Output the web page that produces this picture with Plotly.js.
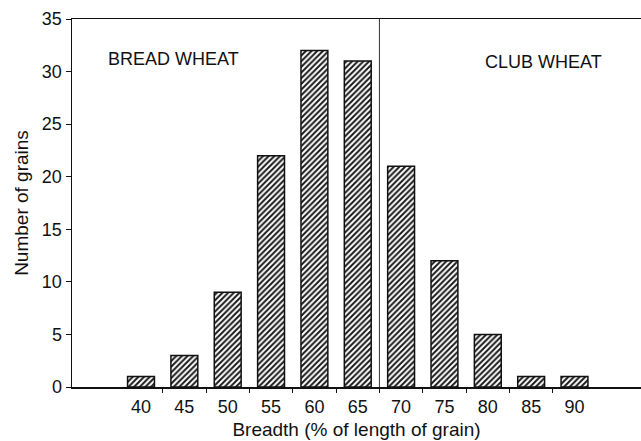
<!DOCTYPE html>
<html>
<head>
<meta charset="utf-8">
<script src="https://cdn.plot.ly/plotly-3.0.1.min.js"></script>
<style>html,body{margin:0;padding:0;background:#fff;}#chart{width:641px;height:441px;}</style>
</head>
<body>
<div id="chart"></div>
<script>
// Data
var breadth = [40, 45, 50, 55, 60, 65, 70, 75, 80, 85, 90];
var grains  = [1, 3, 9, 22, 32, 31, 21, 12, 5, 1, 1];
var tickLabels = ["40", "45", "50", "55", "60", "65", "70", "75", "80", "85", "90"];
var classBoundaries = [42.5, 47.5, 52.5, 57.5, 62.5, 67.5, 72.5, 77.5, 82.5, 87.5];
var divider = [67.5];
var groupLabels = ["BREAD WHEAT", "CLUB WHEAT"];
var groupLabelX = [43.7, 86.4];
var groupLabelY = [31.2, 30.9];
var yTicks = [0, 5, 10, 15, 20, 25, 30, 35];

var FONT = "Liberation Sans, Arial, Helvetica, sans-serif";
var INK = "#111";

var traces = [
  {
    type: "bar",
    x: breadth,
    y: grains,
    width: 3.1,
    marker: {
      color: "#fff",
      line: {color: INK, width: 1.5},
      pattern: {shape: "/", fgcolor: "#1a1a1a", bgcolor: "#fff", size: 4, solidity: 0.5}
    },
    hoverinfo: "x+y",
    xaxis: "x",
    yaxis: "y"
  },
  {
    type: "scatter",
    mode: "lines",
    x: [divider[0], divider[0]],
    y: [0, 35],
    line: {color: "#333", width: 1},
    hoverinfo: "skip",
    xaxis: "x",
    yaxis: "y"
  },
  {
    type: "scatter",
    mode: "markers",
    x: classBoundaries,
    y: classBoundaries.map(function(){return 0;}),
    marker: {opacity: 0},
    hoverinfo: "skip",
    xaxis: "x2",
    yaxis: "y"
  }
];

var xr = [32.04, 97.67];

var layout = {
  width: 641,
  height: 441,
  margin: {l: 72, r: 0, t: 19, b: 54},
  paper_bgcolor: "#fff",
  plot_bgcolor: "#fff",
  showlegend: false,
  font: {family: FONT, color: INK, size: 16},
  xaxis: {
    range: xr,
    tickmode: "array",
    tickvals: breadth,
    ticktext: tickLabels,
    ticks: "outside",
    ticklen: 3,
    tickcolor: "rgba(0,0,0,0)",
    tickfont: {size: 18, family: FONT, color: INK},
    showgrid: false,
    zeroline: false,
    showline: true,
    linecolor: INK,
    linewidth: 1.5,
    mirror: true,
    title: {text: "Breadth (% of length of grain)", font: {size: 19, family: FONT, color: INK}, standoff: 6}
  },
  xaxis2: {
    range: xr,
    overlaying: "x",
    side: "bottom",
    tickmode: "array",
    tickvals: classBoundaries,
    showticklabels: false,
    ticks: "outside",
    ticklen: 5,
    tickwidth: 1,
    tickcolor: INK,
    showgrid: false,
    zeroline: false,
    showline: false
  },
  yaxis: {
    range: [0, 35],
    tickmode: "array",
    tickvals: yTicks,
    ticks: "outside",
    ticklen: 5,
    tickwidth: 1,
    tickcolor: INK,
    tickfont: {size: 18, family: FONT, color: INK},
    showgrid: false,
    zeroline: false,
    showline: true,
    linecolor: INK,
    linewidth: 1.5,
    mirror: false,
    title: {text: "Number of grains", font: {size: 19, family: FONT, color: INK}, standoff: 8}
  },
  annotations: groupLabels.map(function(t, i){
    return {
      text: t, x: groupLabelX[i], y: groupLabelY[i], xref: "x", yref: "y",
      showarrow: false, font: {size: 18, family: FONT, color: INK}
    };
  })
};

Plotly.newPlot("chart", traces, layout, {staticPlot: true, displayModeBar: false});
</script>
</body>
</html>
